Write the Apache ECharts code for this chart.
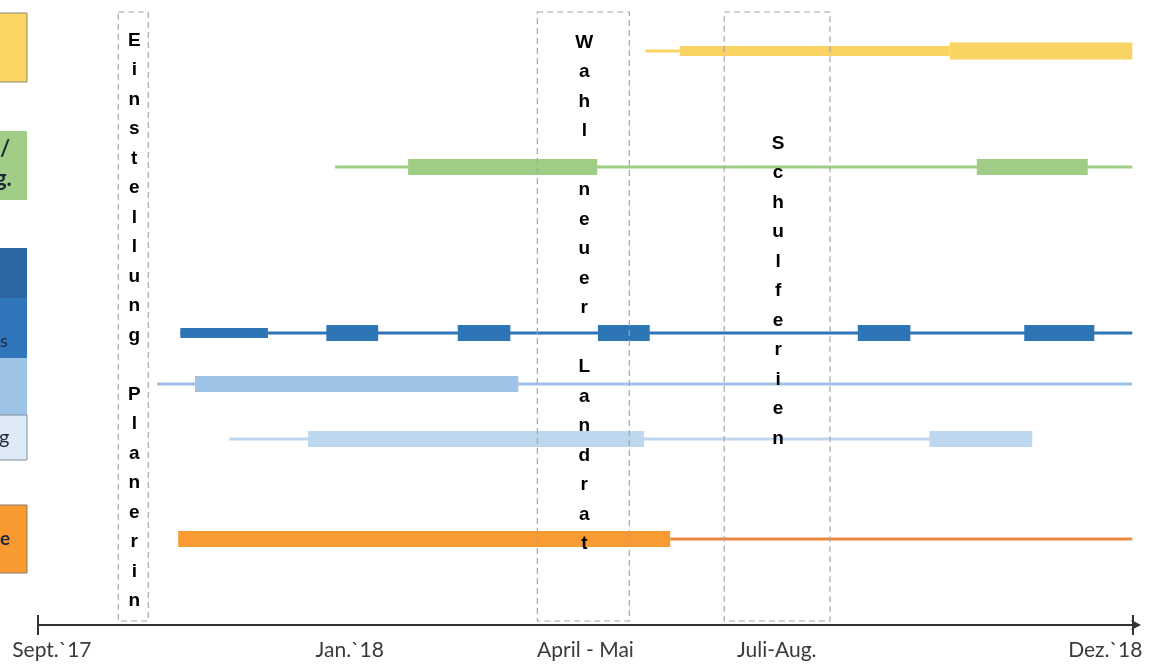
<!DOCTYPE html>
<html><head><meta charset="utf-8">
<script src="https://cdn.jsdelivr.net/npm/echarts@6/dist/echarts.min.js"></script>
<style>html,body{margin:0;padding:0;background:#fff}#c{width:1154px;height:669px}</style>
</head><body><div id="c"></div>
<script>
// ---- data (x in months since Sept. 2017) ----
const axisTickLabels = ['Sept.`17', 'Jan.`18', 'April - Mai', 'Juli-Aug.', 'Dez.`18'];
const axisTickMonths = [0.19, 4.27, 7.5, 10.12, 14.62];
const axisEndMonths = [0, 15];

const laneValues = [1.02, 3.34, 6.66, 7.68, 8.78, 10.78];
// [laneIndex, start, end]
const thinSpans = [[0, 8.32, 8.79], [1, 4.07, 14.99], [2, 1.95, 14.99], [3, 1.63, 14.99], [4, 2.62, 13.62], [5, 8.66, 14.99]];
const midSpans = [[0, 8.79, 12.49], [2, 1.95, 3.15]];
const thickSpans = [[0, 12.49, 14.99], [1, 5.07, 7.66], [1, 12.86, 14.38], [2, 3.95, 4.66], [2, 5.75, 6.47], [2, 7.67, 8.38],
  [2, 11.23, 11.95], [2, 13.51, 14.47], [3, 2.15, 6.58], [4, 3.70, 8.30], [4, 12.21, 13.62], [5, 1.92, 8.66]];

const periodSpans = [[1.10, 1.51], [6.84, 8.10], [9.40, 10.85]];
const periodLabels = ['Einstellung Planerin', 'Wahl neuer Landrat', 'Schulferien'];

// ---- styles ----
const laneColors = ['#FAD462', '#A0CD85', '#2E75B6', '#9DC3E6', '#BDD7EE', '#F99B32'];
const laneLineColors = ['#FAD462', '#A0CD85', '#2E75B6', '#9DC3E6', '#BDD7EE', '#E8893F'];
const kindHeight = { thin: 3, mid: 10, thick: 16 };
const periodTextTop = [26, 28, 129];
const boxTop = 12, boxBottom = 621;
const letterFont = 'Liberation Sans, Arial, sans-serif';
const labelFont = 'Lato, sans-serif';

const barData = [];
thinSpans.forEach(s => barData.push({ value: [s[1], s[2], laneValues[s[0]], s[0]], kind: 'thin' }));
midSpans.forEach(s => barData.push({ value: [s[1], s[2], laneValues[s[0]], s[0]], kind: 'mid' }));
thickSpans.forEach(s => barData.push({ value: [s[1], s[2], laneValues[s[0]], s[0]], kind: 'thick' }));

function renderBar(params, api) {
  const item = barData[params.dataIndex];
  const s = api.value(0), e = api.value(1), lane = api.value(2), li = api.value(3);
  let h = kindHeight[item.kind];
  if (item.kind === 'thick' && li === 0) h = 17;
  const p1 = api.coord([s, lane]), p2 = api.coord([e, lane]);
  return {
    type: 'rect',
    shape: { x: p1[0], y: p1[1] - h / 2, width: p2[0] - p1[0], height: h },
    style: { fill: item.kind === 'thin' ? laneLineColors[li] : laneColors[li] }
  };
}

function periodLetters(str) {
  return str.split('').join('\n');
}

function renderPeriodBox(params, api) {
  const p1 = api.coord([api.value(0), 0]), p2 = api.coord([api.value(1), 0]);
  return {
    type: 'rect',
    shape: { x: p1[0], y: boxTop, width: p2[0] - p1[0], height: boxBottom - boxTop },
    style: { fill: 'none', stroke: '#A6A6A6', lineWidth: 1.2, lineDash: [6, 4] }
  };
}
function renderPeriodText(params, api) {
  const p1 = api.coord([api.value(0), 0]), p2 = api.coord([api.value(1), 0]);
  return {
    type: 'text',
    style: {
      text: periodLetters(periodLabels[params.dataIndex]),
      x: (p1[0] + p2[0]) / 2 + 1, y: periodTextTop[params.dataIndex],
      align: 'center', verticalAlign: 'top',
      fontSize: 19, fontWeight: 'bold', fontFamily: letterFont,
      lineHeight: 29.5, fill: '#000'
    }
  };
}

const chart = echarts.init(document.getElementById('c'), null, { renderer: 'canvas' });
chart.setOption({
  backgroundColor: '#fff',
  animation: false,
  grid: { left: 38, right: 21, top: 0, bottom: 44 },
  xAxis: [{
    type: 'value', min: 0, max: 15, position: 'bottom',
    splitLine: { show: false },
    axisLine: { show: true, onZero: false, lineStyle: { color: '#333', width: 2 }, symbol: ['none', 'arrow'], symbolSize: [8, 10], symbolOffset: [0, 8] },
    axisTick: { show: true, customValues: axisEndMonths, length: 10, lineStyle: { color: '#333', width: 2 } },
    axisLabel: {
      show: true, customValues: axisTickMonths, margin: 15,
      fontFamily: labelFont, fontSize: 21, color: '#3a3a3a',
      formatter: function (v) {
        let best = 0;
        axisTickMonths.forEach((m, i) => { if (Math.abs(m - v) < Math.abs(axisTickMonths[best] - v)) best = i; });
        return axisTickLabels[best];
      }
    }
  }, {
    type: 'value', min: 0, max: 15, position: 'bottom',
    splitLine: { show: false },
    axisLine: { show: false, onZero: false },
    axisTick: { show: true, inside: true, customValues: axisEndMonths, length: 10, lineStyle: { color: '#333', width: 2 } },
    axisLabel: { show: false }
  }],
  yAxis: { type: 'value', min: 0, max: 12.5, inverse: true, show: false },
  graphic: [
    // partially visible legend boxes at the left edge
    { type: 'rect', shape: { x: -2, y: 13, width: 29, height: 69 }, style: { fill: '#FBD564', stroke: '#8E8A70', lineWidth: 1 } },
    { type: 'rect', shape: { x: -2, y: 131, width: 29, height: 69 }, style: { fill: '#A2CD86' } },
    { type: 'text', style: { text: '/', x: 0, y: 138, fontSize: 22, fontWeight: 'bold', fontFamily: labelFont, fill: '#1E2A3A' } },
    { type: 'text', style: { text: 'g.', x: -5, y: 168, fontSize: 22, fontWeight: 'bold', fontFamily: labelFont, fill: '#1E2A3A' } },
    { type: 'rect', shape: { x: -2, y: 248, width: 29, height: 50 }, style: { fill: '#2D67A3' } },
    { type: 'rect', shape: { x: -2, y: 298, width: 29, height: 60 }, style: { fill: '#2F76BA' } },
    { type: 'text', style: { text: 's', x: 0, y: 332, fontSize: 18, fontFamily: labelFont, fill: '#1E2A3A' } },
    { type: 'rect', shape: { x: -2, y: 358, width: 29, height: 57 }, style: { fill: '#9DC3E6' } },
    { type: 'rect', shape: { x: -2, y: 415, width: 29, height: 45 }, style: { fill: '#DEEBF7', stroke: '#7E8C9C', lineWidth: 1 } },
    { type: 'text', style: { text: 'g', x: -1, y: 428, fontSize: 20, fontFamily: labelFont, fill: '#1E2A3A' } },
    { type: 'rect', shape: { x: -2, y: 505, width: 29, height: 68 }, style: { fill: '#F99A30', stroke: '#8E7A66', lineWidth: 1 } },
    { type: 'text', style: { text: 'e', x: 0, y: 529, fontSize: 19, fontWeight: 'bold', fontFamily: labelFont, fill: '#1E2A3A' } }
  ],
  series: [
    { type: 'custom', name: 'bars', z: 2, renderItem: renderBar, data: barData, encode: { x: [0, 1], y: 2 }, silent: true },
    { type: 'custom', name: 'periodText', z: 3, renderItem: renderPeriodText, data: periodSpans, silent: true },
    { type: 'custom', name: 'periodBox', z: 4, renderItem: renderPeriodBox, data: periodSpans, silent: true }
  ]
});
</script>
</body></html>
